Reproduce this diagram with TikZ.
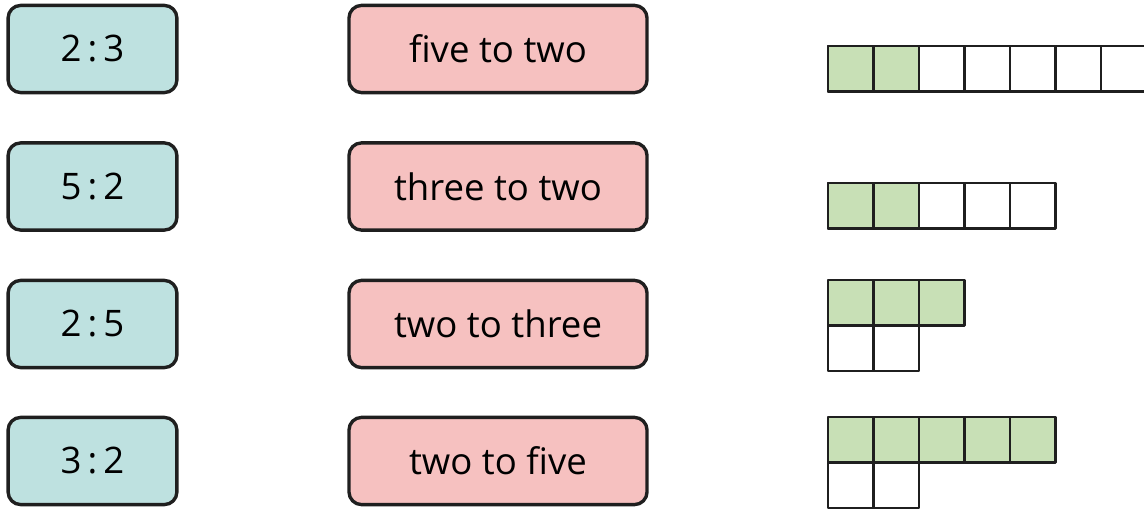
\documentclass[tikz,border=0pt]{standalone}
\usepackage{fontspec}
\setmainfont{Open Sans}
\definecolor{ratioteal}{HTML}{BEE1E0}
\definecolor{wordpink}{HTML}{F6C1C0}
\definecolor{cellgreen}{HTML}{C8E0B6}
\begin{document}
\begin{tikzpicture}[x=0.025cm,y=-0.025cm, line join=round,
    ratio/.style={draw=black!88, line width=2.4pt, rounded corners=9pt, fill=ratioteal,
      minimum width=4.22cm, minimum height=2.18cm, inner sep=0pt,
      font=\fontsize{26}{31}\selectfont},
    words/.style={ratio, fill=wordpink, minimum width=7.45cm},
    cell/.style={draw=black!88, line width=1.5pt},
    shaded/.style={cell, fill=cellgreen}]
    \def\c{45.5}
    \useasboundingbox (0,0) rectangle (1144,512);
    \clip (0,0) rectangle (1144,512);
    % ratio cards
    \node[ratio] (r1) at (92.5,49) {2\,:\,3};
    \node[ratio] (r2) at (92.5,186.5) {5\,:\,2};
    \node[ratio] (r3) at (92.5,324) {2\,:\,5};
    \node[ratio] (r4) at (92.5,461) {3\,:\,2};
    % word cards
    \node[words] (w1) at (498,49) {five to two};
    \node[words] (w2) at (498,186.5) {three to two};
    \node[words] (w3) at (498,324) {two to three};
    \node[words] (w4) at (498,461) {two to five};
    % bar models
    \foreach \i in {0,...,6} \draw[cell] (828+\i*\c,46) rectangle ++(\c,\c);
    \foreach \i in {0,1} \draw[shaded] (828+\i*\c,46) rectangle ++(\c,\c);
    \foreach \i in {0,...,4} \draw[cell] (828+\i*\c,183) rectangle ++(\c,\c);
    \foreach \i in {0,1} \draw[shaded] (828+\i*\c,183) rectangle ++(\c,\c);
    \foreach \i in {0,1,2} \draw[shaded] (828+\i*\c,280) rectangle ++(\c,\c);
    \foreach \i in {0,1} \draw[cell] (828+\i*\c,280+\c) rectangle ++(\c,\c);
    \foreach \i in {0,...,4} \draw[shaded] (828+\i*\c,417) rectangle ++(\c,\c);
    \foreach \i in {0,1} \draw[cell] (828+\i*\c,417+\c) rectangle ++(\c,\c);
\end{tikzpicture}
\end{document}
